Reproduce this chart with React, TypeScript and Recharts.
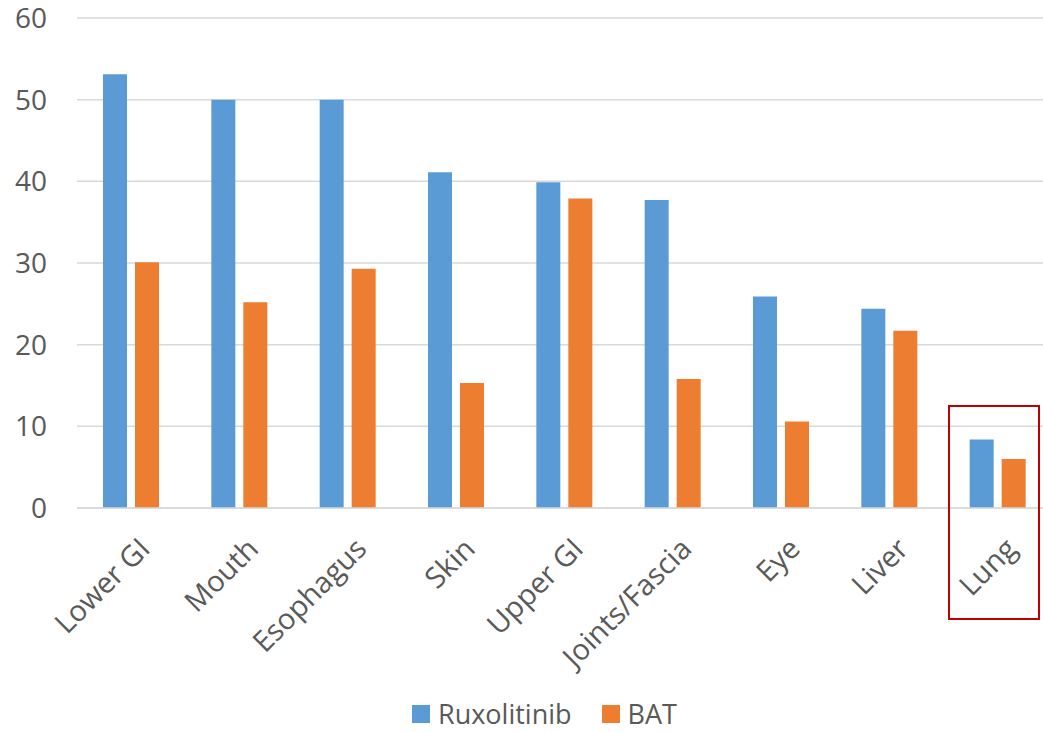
import React from 'react';
import { BarChart, Bar, XAxis, YAxis, CartesianGrid, Legend } from 'recharts';

const categories = ['Lower GI', 'Mouth', 'Esophagus', 'Skin', 'Upper GI', 'Joints/Fascia', 'Eye', 'Liver', 'Lung'];
const ruxolitinib = [53.1, 50.0, 50.0, 41.1, 39.9, 37.7, 25.9, 24.4, 8.4];
const bat = [30.1, 25.2, 29.3, 15.3, 37.9, 15.8, 10.6, 21.7, 6.0];
const yTicks = [0, 10, 20, 30, 40, 50, 60];
const seriesOrder = ['Ruxolitinib', 'BAT'];

const data = categories.map((c, i) => ({ name: c, Ruxolitinib: ruxolitinib[i], BAT: bat[i] }));

const FONT = '"Open Sans", Lato, sans-serif';
const TEXT = '#595959';

const renderLegend = (props: any) => {
  const payload = [...(props.payload || [])].sort(
    (a: any, b: any) => seriesOrder.indexOf(a.value) - seriesOrder.indexOf(b.value)
  );
  return (
    <div style={{ display: 'flex', alignItems: 'center', fontFamily: FONT, fontSize: 27, lineHeight: '36px', color: TEXT }}>
      {payload.map((p: any, i: number) => (
        <div key={i} style={{ display: 'flex', alignItems: 'center', marginRight: i === 0 ? 30 : 0 }}>
          <div style={{ width: 18, height: 18, background: p.color, marginRight: 8 }} />
          <span>{p.value}</span>
        </div>
      ))}
    </div>
  );
};

export default function App() {
  return (
    <div style={{ position: 'absolute', left: 0, top: 0, width: 1043, height: 732, overflow: 'hidden', background: '#fff' }}>
      <BarChart
        width={1060}
        height={732}
        data={data}
        margin={{ top: 18, right: 8, bottom: 0, left: 0 }}
        barSize={24}
        barGap={8}
      >
        <CartesianGrid vertical={false} stroke="#D9D9D9" strokeWidth={1.5} />
        <XAxis
          dataKey="name"
          axisLine={{ stroke: '#D9D9D9', strokeWidth: 1.5 }}
          tickLine={false}
          interval={0}
          height={188}
          tickSize={0}
          tickMargin={28}
          angle={-45}
          textAnchor="end"
          tick={{ fill: TEXT, fontSize: 29, fontFamily: FONT, dx: 6 } as any}
        />
        <YAxis
          domain={[0, 60]}
          ticks={yTicks}
          width={77}
          axisLine={false}
          tickLine={false}
          tickSize={0}
          tickMargin={30}
          tick={{ fill: TEXT, fontSize: 28, fontFamily: FONT }}
        />
        <Legend
          verticalAlign="bottom"
          content={renderLegend}
          wrapperStyle={{ left: 412, bottom: 0, width: 'auto', height: 36 }}
        />
        <Bar dataKey="Ruxolitinib" fill="#5B9BD5" isAnimationActive={false} />
        <Bar dataKey="BAT" fill="#ED7D31" isAnimationActive={false} />
      </BarChart>
      <div
        style={{
          position: 'absolute',
          left: 948,
          top: 405,
          width: 92,
          height: 215,
          border: '2.5px solid #C00000',
          boxSizing: 'border-box',
        }}
      />
    </div>
  );
}
